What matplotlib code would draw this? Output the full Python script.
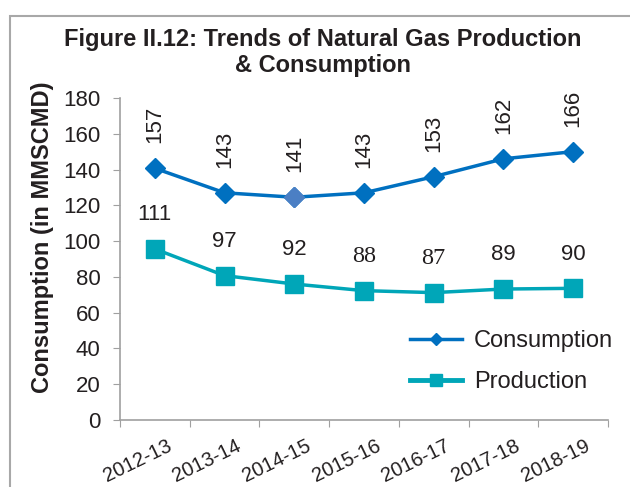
import matplotlib
matplotlib.use("Agg")
import matplotlib.pyplot as plt
from matplotlib.patches import Rectangle
from matplotlib.lines import Line2D

# categories and values (plotted positions and printed labels)
years = ['2012-13', '2013-14', '2014-15', '2015-16', '2016-17', '2017-18', '2018-19']
consumption = [140.7, 127, 124.5, 127, 136, 146, 150]
production = [95.6, 80.7, 76, 72.3, 71.2, 73.2, 73.6]
consumption_labels = ['157', '143', '141', '143', '153', '162', '166']
production_labels = ['111', '97', '92', '88', '87', '89', '90']
serif_labels = ['88', '87']

plt.rcParams['font.family'] = ['Liberation Sans', 'DejaVu Sans']

c_col = '#0070C0'
p_col = '#00A6B8'
txt = '#231F20'
grey = '#A0A0A0'

fig = plt.figure(figsize=(6.3, 4.87), dpi=100)
ax = fig.add_axes([0.1905, 0.1376, 0.7746, 0.6612])

x = list(range(len(years)))
ax.plot(x, consumption, color=c_col, lw=2.5, marker='D', ms=10, zorder=3)
# lighter marker at 2014-15
ax.plot([2], [consumption[2]], ls='none', marker='D', ms=10, color='#4B7FC4', zorder=4)
ax.plot(x, production, color=p_col, lw=2.5, marker='s', ms=13, zorder=3)

for i in x:
    ax.annotate(consumption_labels[i], (i, consumption[i]), xytext=(0, 18), textcoords='offset points',
                rotation=90, ha='center', va='bottom', fontsize=16, color=txt)
    lab = production_labels[i]
    if lab in serif_labels:
        fam, fs = ['Liberation Serif'], 17.5
    else:
        fam, fs = ['Liberation Sans'], 16
    ax.annotate(lab, (i, production[i]), xytext=(0, 17), textcoords='offset points',
                ha='center', va='bottom', fontsize=fs, color=txt, family=fam)

ax.set_ylim(0, 180)
ax.set_yticks(range(0, 181, 20))
ax.set_xlim(-0.5, len(years) - 0.5)
ax.set_xticks([i - 0.5 for i in range(len(years) + 1)])
ax.set_xticklabels([])
# year labels sit a little right of the category centre, as in the original
ax.set_xticks([i + 0.16 for i in x], minor=True)
ax.set_xticklabels(years, minor=True, rotation=26, ha='right', rotation_mode='anchor',
                   fontsize=14.5, color=txt)
ax.tick_params(axis='x', which='minor', length=0, pad=12)
ax.tick_params(axis='x', which='major', length=5, color=grey, direction='out')
ax.tick_params(axis='y', length=5, color=grey, labelsize=16, labelcolor=txt, pad=9)

for s in ['top', 'right']:
    ax.spines[s].set_visible(False)
for s in ['left', 'bottom']:
    ax.spines[s].set_color(grey)
    ax.spines[s].set_linewidth(1.2)

handles = [Line2D([], [], color=c_col, lw=2.5, marker='D', ms=6),
           Line2D([], [], color=p_col, lw=3.5, marker='s', ms=8)]
leg = ax.legend(handles, ['Consumption', 'Production'], loc='upper left',
                bbox_to_anchor=(0.57, 0.315), frameon=False, fontsize=17,
                handlelength=2.2, labelspacing=0.8, handletextpad=0.5, borderpad=0)
for t in leg.get_texts():
    t.set_color(txt)

fig.text(0.513, 0.918, 'Figure II.12: Trends of Natural Gas Production',
         ha='center', va='center', fontsize=17, fontweight='bold', color=txt)
fig.text(0.513, 0.866, '& Consumption',
         ha='center', va='center', fontsize=17, fontweight='bold', color=txt)
fig.text(0.068, 0.512, 'Consumption (in MMSCMD)', rotation=90, ha='center', va='center',
         fontsize=17, fontweight='bold', color=txt)

# frame around the figure (cut off at right and bottom)
fig.patches.append(Rectangle((10 / 630, -0.1), 1.2, 1.1 - 16 / 487, transform=fig.transFigure,
                             fill=False, edgecolor='#A8A8A8', lw=1.5))

fig.savefig('out.png', dpi=100)
